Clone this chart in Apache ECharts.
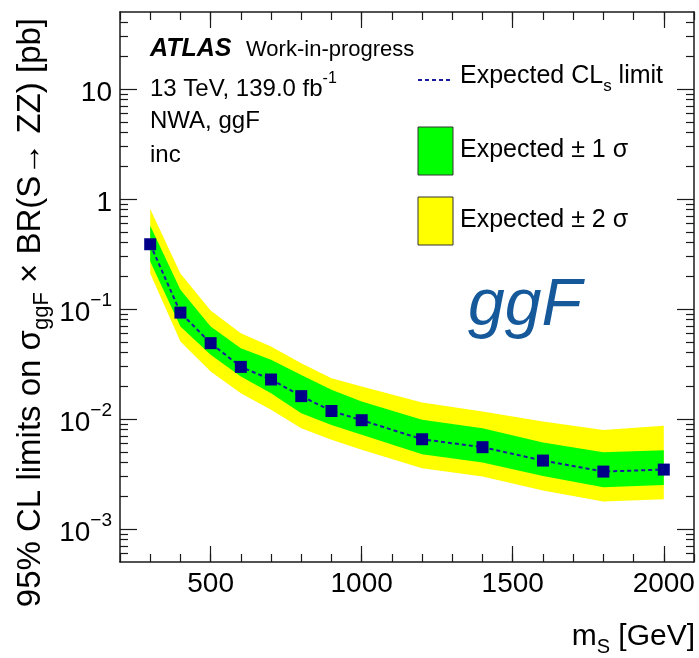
<!DOCTYPE html>
<html>
<head>
<meta charset="utf-8">
<script src="https://cdn.jsdelivr.net/npm/echarts@6/dist/echarts.min.js"></script>
<style>
  html, body { margin: 0; padding: 0; background: #fff; }
  #chart { width: 699px; height: 658px; }
</style>
</head>
<body>
<div id="chart"></div>
<script>
// Scalar mass points and expected 95% CL limits with their uncertainty bands [pb]
const massPoints    = [300, 400, 500, 600, 700, 800, 900, 1000, 1200, 1400, 1600, 1800, 2000];
const expectedLimit = [0.387, 0.0925, 0.0488, 0.0297, 0.0228, 0.0161, 0.0118, 0.00973, 0.00653, 0.00553, 0.00418, 0.00332, 0.00346];
const plusOneSigma  = [0.57, 0.149, 0.069, 0.0439, 0.0344, 0.0251, 0.0184, 0.01436, 0.0098, 0.00822, 0.0061, 0.00498, 0.00519];
const minusOneSigma = [0.27, 0.069, 0.0382, 0.0243, 0.0171, 0.01127, 0.00882, 0.00716, 0.00478, 0.00401, 0.00303, 0.00239, 0.0025];
const plusTwoSigma  = [0.81, 0.21, 0.0966, 0.0601, 0.0455, 0.0321, 0.0234, 0.0197, 0.01407, 0.01167, 0.00946, 0.00794, 0.00864];
const minusTwoSigma = [0.21, 0.0504, 0.0269, 0.0171, 0.0121, 0.00822, 0.00645, 0.00523, 0.00356, 0.00299, 0.00223, 0.00177, 0.00186];

// Axis ranges and labelled ticks
const xRange = [200, 2100];
const yRange = [5e-4, 50];
const xTickLabels = [500, 1000, 1500, 2000];
const yTickLabels = [0.001, 0.01, 0.1, 1, 10];

// Minor ticks of the log axis: 2..9 times each power of ten inside the range
const yMinorTicks = [];
for (let p = -4; p <= 1; p++) {
  for (let m = 2; m <= 9; m++) {
    const v = m * Math.pow(10, p);
    if (v > yRange[0] && v < yRange[1]) yMinorTicks.push(v);
  }
}

const FONT = 'Liberation Sans';
const frameStyle = { color: '#1a1a1a', width: 1.5 };
const tickStyle = { color: '#1a1a1a', width: 1.2 };

function bandRenderer(lower, upper, color) {
  return function (params, api) {
    if (params.dataIndex !== 0) return null;
    const pts = [];
    for (let i = 0; i < massPoints.length; i++) pts.push(api.coord([massPoints[i], upper[i]]));
    for (let i = massPoints.length - 1; i >= 0; i--) pts.push(api.coord([massPoints[i], lower[i]]));
    return { type: 'polygon', shape: { points: pts }, style: { fill: color, stroke: null } };
  };
}

function xAxisDef(position, major, withLabels) {
  return {
    type: 'value', position: position, min: xRange[0], max: xRange[1], interval: 100,
    splitLine: { show: false },
    axisLine: { show: !major, lineStyle: frameStyle },
    axisTick: major
      ? { show: true, inside: true, length: 16, customValues: xTickLabels, lineStyle: tickStyle }
      : { show: true, inside: true, length: 8, lineStyle: tickStyle },
    axisLabel: withLabels
      ? { show: true, customValues: xTickLabels, margin: 8, fontFamily: FONT, fontSize: 28, color: '#000',
          formatter: function (v) { return String(Math.round(v)); } }
      : { show: false }
  };
}

function yLabelFormatter(v) {
  const e = Math.round(Math.log10(v));
  if (e === 0) return '{b|1}';
  if (e === 1) return '{b|10}';
  return '{b|10}{e|\u2212' + (-e) + '}';
}

function yAxisDef(position, major, withLabels) {
  return {
    type: 'log', logBase: 10, position: position, min: yRange[0], max: yRange[1],
    splitLine: { show: false },
    minorTick: { show: false },
    axisLine: { show: !major, lineStyle: frameStyle },
    axisTick: major
      ? { show: true, inside: true, length: 17, customValues: yTickLabels, lineStyle: tickStyle }
      : { show: true, inside: true, length: 8, customValues: yMinorTicks, lineStyle: tickStyle },
    axisLabel: withLabels
      ? {
          show: true, customValues: yTickLabels, margin: 8, formatter: yLabelFormatter,
          rich: {
            b: { fontFamily: FONT, fontSize: 28, color: '#000', lineHeight: 36, verticalAlign: 'bottom' },
            e: { fontFamily: FONT, fontSize: 19, color: '#000', lineHeight: 20, verticalAlign: 'top' }
          }
        }
      : { show: false }
  };
}

const chart = echarts.init(document.getElementById('chart'), null, { renderer: 'canvas' });

chart.setOption({
  animation: false,
  backgroundColor: '#fff',
  grid: { left: 120, top: 12, width: 574, height: 550, containLabel: false },
  xAxis: [
    xAxisDef('bottom', false, true),
    xAxisDef('bottom', true, false),
    xAxisDef('top', false, false),
    xAxisDef('top', true, false)
  ],
  yAxis: [
    yAxisDef('left', true, true),
    yAxisDef('left', false, false),
    yAxisDef('right', true, false),
    yAxisDef('right', false, false)
  ],
  series: [
    {
      name: 'Expected \u00b1 2 \u03c3', type: 'custom', silent: true,
      xAxisIndex: 0, yAxisIndex: 0,
      renderItem: bandRenderer(minusTwoSigma, plusTwoSigma, '#ffff00'),
      data: massPoints.map((m, i) => [m, minusTwoSigma[i], plusTwoSigma[i]]),
      encode: { x: 0, y: [1, 2] }, z: 1
    },
    {
      name: 'Expected \u00b1 1 \u03c3', type: 'custom', silent: true,
      xAxisIndex: 0, yAxisIndex: 0,
      renderItem: bandRenderer(minusOneSigma, plusOneSigma, '#00ff00'),
      data: massPoints.map((m, i) => [m, minusOneSigma[i], plusOneSigma[i]]),
      encode: { x: 0, y: [1, 2] }, z: 1
    },
    {
      name: 'Expected CLs limit', type: 'line',
      xAxisIndex: 0, yAxisIndex: 0,
      data: massPoints.map((m, i) => [m, expectedLimit[i]]),
      symbol: 'rect', symbolSize: 12, showSymbol: true,
      lineStyle: { color: '#1a1aa0', width: 2, type: [4, 3] },
      itemStyle: { color: '#000088' },
      z: 3
    }
  ],
  graphic: [
    // axis titles
    {
      type: 'text', x: 32, y: 18, rotation: Math.PI / 2,
      style: {
        text: '{a|95% CL limits on \u03c3}{s|ggF}{a| \u00d7 BR(S\u2192 ZZ) [pb]}',
        align: 'right', verticalAlign: 'middle',
        rich: {
          a: { fontFamily: FONT, fontSize: 33, color: '#000', lineHeight: 35, verticalAlign: 'top' },
          s: { fontFamily: FONT, fontSize: 22, color: '#000', lineHeight: 23, padding: [16, 0, 0, 0], verticalAlign: 'top' }
        }
      }
    },
    {
      type: 'text', x: 695, y: 638,
      style: {
        text: '{a|m}{s|S}{a| [GeV]}',
        align: 'right', verticalAlign: 'middle',
        rich: {
          a: { fontFamily: FONT, fontSize: 30, color: '#000', lineHeight: 32, verticalAlign: 'top' },
          s: { fontFamily: FONT, fontSize: 20, color: '#000', lineHeight: 22, padding: [15, 0, 0, 0], verticalAlign: 'top' }
        }
      }
    },
    // experiment label block
    {
      type: 'text', x: 150, y: 49,
      style: { text: 'ATLAS', fontFamily: FONT, fontSize: 25, fontWeight: 'bold', fontStyle: 'italic', fill: '#000', verticalAlign: 'middle' }
    },
    {
      type: 'text', x: 246, y: 50,
      style: { text: 'Work-in-progress', fontFamily: FONT, fontSize: 22, fill: '#000', verticalAlign: 'middle' }
    },
    {
      type: 'text', x: 150, y: 86,
      style: {
        text: '{a|13 TeV, 139.0 fb}{p|-1}', verticalAlign: 'middle',
        rich: {
          a: { fontFamily: FONT, fontSize: 24, color: '#000', lineHeight: 30, verticalAlign: 'bottom' },
          p: { fontFamily: FONT, fontSize: 16, color: '#000', lineHeight: 18, verticalAlign: 'top' }
        }
      }
    },
    {
      type: 'text', x: 150, y: 121,
      style: { text: 'NWA, ggF', fontFamily: FONT, fontSize: 24, fill: '#000', verticalAlign: 'middle' }
    },
    {
      type: 'text', x: 150, y: 155,
      style: { text: 'inc', fontFamily: FONT, fontSize: 24, fill: '#000', verticalAlign: 'middle' }
    },
    // legend
    {
      type: 'line', shape: { x1: 418, y1: 80, x2: 453, y2: 80 },
      style: { stroke: '#1a1aa0', lineWidth: 2, lineDash: [4, 3] }
    },
    {
      type: 'text', x: 460, y: 78,
      style: {
        text: '{a|Expected CL}{s|s}{a| limit}', verticalAlign: 'middle',
        rich: {
          a: { fontFamily: FONT, fontSize: 25, color: '#000', lineHeight: 28, verticalAlign: 'top' },
          s: { fontFamily: FONT, fontSize: 17, color: '#000', lineHeight: 18, padding: [14, 0, 0, 0], verticalAlign: 'top' }
        }
      }
    },
    {
      type: 'rect', shape: { x: 418, y: 127, width: 35, height: 48 },
      style: { fill: '#00ff00', stroke: '#333', lineWidth: 1 }
    },
    {
      type: 'text', x: 460, y: 150,
      style: { text: 'Expected \u00b1 1 \u03c3', fontFamily: FONT, fontSize: 25, fill: '#000', verticalAlign: 'middle' }
    },
    {
      type: 'rect', shape: { x: 418, y: 197, width: 35, height: 48 },
      style: { fill: '#ffff00', stroke: '#333', lineWidth: 1 }
    },
    {
      type: 'text', x: 460, y: 220,
      style: { text: 'Expected \u00b1 2 \u03c3', fontFamily: FONT, fontSize: 25, fill: '#000', verticalAlign: 'middle' }
    },
    // production mode tag
    {
      type: 'text', x: 468, y: 307,
      style: { text: 'ggF', fontFamily: FONT, fontSize: 66, fontStyle: 'italic', fill: '#16599b', verticalAlign: 'middle' }
    }
  ]
});
</script>
</body>
</html>
